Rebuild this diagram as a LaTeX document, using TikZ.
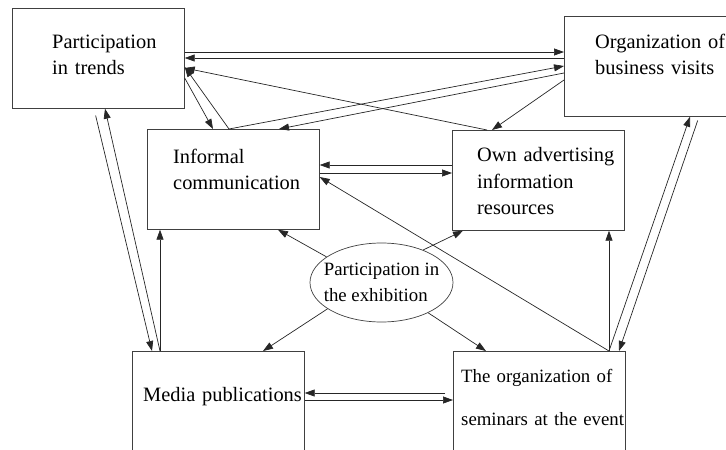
\documentclass[tikz,border=0pt]{standalone}
\usepackage{fontspec}
\setmainfont{Liberation Serif}
\usetikzlibrary{arrows.meta,calc,shapes.geometric}

\begin{document}
\begin{tikzpicture}[x=1pt,y=-1pt,
    box/.style={draw=black!75,line width=0.7pt,minimum width=\bw pt,minimum height=\bh pt,anchor=north west,inner sep=0pt},
    boxtext/.style={anchor=base west,inner sep=0pt,text width=180pt,align=left,font=\fontsize{20.4}{26.5}\selectfont},
    link/.style={draw=black!85,line width=0.7pt,-{Triangle[length=10pt,width=7pt]}}]
    \pgfmathsetmacro{\bw}{172};
    \pgfmathsetmacro{\bh}{100};
    \useasboundingbox (0,0) rectangle (726,450);

    \node[box] (trends) at (12,8) {};
    \node[box] (visits) at (564,16) {};
    \node[box] (informal) at (147,129) {};
    \node[box] (adv) at (452,130) {};
    \node[box] (media) at (132,351) {};
    \node[box] (seminar) at (453,351) {};
    \node[ellipse,draw=black!75,line width=0.7pt,minimum width=143pt,minimum height=79pt,inner xsep=-8pt,inner ysep=0pt,align=left,font=\fontsize{18.8}{26.5}\selectfont] (exhib) at (381.5,282.5) {Participation in\\the exhibition};

    \node[boxtext] (trendsTxt) at ($(trends.north west)+(40,40)$) {Participation\\in trends};
    \node[boxtext] (visitsTxt) at ($(visits.north west)+(31,32)$) {Organization of\\business visits};
    \node[boxtext] (informalTxt) at ($(informal.north west)+(26,34)$) {Informal\\communication};
    \node[boxtext] (advTxt) at ($(adv.north west)+(25,31.5)$) {Own advertising\\information\\resources};
    \node[boxtext] (mediaTxt) at ($(media.north west)+(11,50)$) {Media publications};
    \node[boxtext,font=\fontsize{18.8}{43}\selectfont] (seminarTxt) at ($(seminar.north west)+(8,31)$) {The organization of\\seminars at the event};

    \draw[link] ($(trends.north east)+(0,44)$) -- ($(visits.north west)+(0,36)$);
    \draw[link] ($(visits.north west)+(0,42)$) -- ($(trends.north east)+(0,50)$);
    \draw[link] ($(adv.north west)+(35,0)$) -- ($(trends.north east)+(0,60)$);
    \draw[link] ($(informal.north west)+(82,0)$) -- ($(trends.north east)+(0,59)$);
    \draw[link] ($(trends.north east)+(0,70)$) -- ($(informal.north west)+(66,0)$);
    \draw[link] ($(informal.north west)+(82,0)$) -- ($(visits.north west)+(0,50)$);
    \draw[link] ($(visits.north west)+(0,57)$) -- ($(informal.north west)+(132,0)$);
    \draw[link] ($(visits.north west)+(0,64)$) -- ($(adv.north west)+(40,0)$);

    \draw[link] ($(adv.north west)+(0,35)$) -- ($(informal.north east)+(0,36)$);
    \draw[link] ($(informal.north east)+(0,44)$) -- ($(adv.north west)+(0,43)$);

    \coordinate (semtop) at ($(seminar.north west)+(156,0)$);
    \draw[link] (semtop) -- ($(informal.north east)+(0,48)$);
    \draw[link] (semtop) -- (semtop |- adv.south);
    \draw[link] (semtop) -- ($(visits.south west)+(126,0)$);
    \draw[link,shorten <=4pt] ($(visits.south west)+(135,0)$) -- ($(seminar.north west)+(166,0)$);

    \coordinate (medtop) at ($(media.north west)+(28,0)$);
    \draw[link,shorten <=7pt] ($(trends.south west)+(82,0)$) -- ($(media.north west)+(20,0)$);
    \draw[link] (medtop) -- ($(trends.south west)+(93,0)$);
    \draw[link] (medtop) -- (medtop |- informal.south);

    \draw[link] (exhib.155) -- ($(informal.south west)+(131,0)$);
    \draw[link] (exhib.38) -- ($(adv.south west)+(11,0)$);
    \draw[link] (exhib.206) -- ($(media.north west)+(131,0)$);
    \draw[link] (exhib.327) -- ($(seminar.north west)+(33,0)$);

    \draw[link,shorten <=8pt] ($(seminar.north west)+(0,42)$) -- ($(media.north east)+(0,42)$);
    \draw[link] ($(media.north east)+(0,49)$) -- ($(seminar.north west)+(0,49)$);
\end{tikzpicture}
\end{document}
